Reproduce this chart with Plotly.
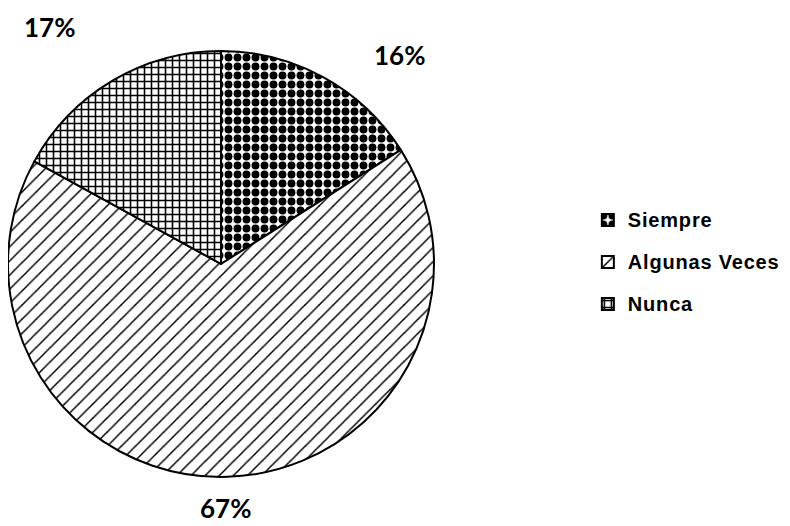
import plotly.graph_objects as go

# datos del gráfico
categorias = ['Siempre', 'Algunas Veces', 'Nunca']
porcentajes = [16, 67, 17]
patrones = ['.', '/', '+']

# posiciones de las etiquetas de porcentaje (papel)
etiqueta_x = [0.496, 0.275, 0.052]
etiqueta_y = [0.911, 0.05, 0.964]

fig = go.Figure()

fig.add_trace(go.Pie(
    labels=['<span style="font-size:20px;letter-spacing:0.8px;baseline-shift:5px">%s</span>' % c
            for c in categorias],
    values=porcentajes,
    sort=False,
    direction='clockwise',
    rotation=0,
    textinfo='none',
    marker=dict(
        colors=['white', 'white', 'white'],
        line=dict(color='black', width=2),
        pattern=dict(shape=patrones, fgcolor='black', bgcolor='white',
                     size=[9, 10, 7], solidity=[0.6, 0.15, 0.4])
    ),
    domain=dict(x=[0, 0.5392], y=[0.1084, 0.9183]),
    showlegend=True,
    hoverinfo='label+percent'
))

# etiquetas de porcentaje
for i in range(len(categorias)):
    fig.add_annotation(
        x=etiqueta_x[i], y=etiqueta_y[i], xref='paper', yref='paper',
        text='<b>%d%%</b>' % porcentajes[i], showarrow=False,
        font=dict(family='Lato', size=26, color='black'),
        xanchor='center', yanchor='middle'
    )

# Ajustar layout
fig.update_layout(
    width=790, height=526,
    margin=dict(l=0, r=0, t=0, b=0),
    paper_bgcolor='white',
    plot_bgcolor='white',
    legend=dict(
        x=0.734, y=0.517, xanchor='left', yanchor='middle',
        font=dict(family='Liberation Sans', size=30, color='black', weight='bold'),
        bgcolor='rgba(0,0,0,0)'
    )
)

fig.write_html("out.html")
